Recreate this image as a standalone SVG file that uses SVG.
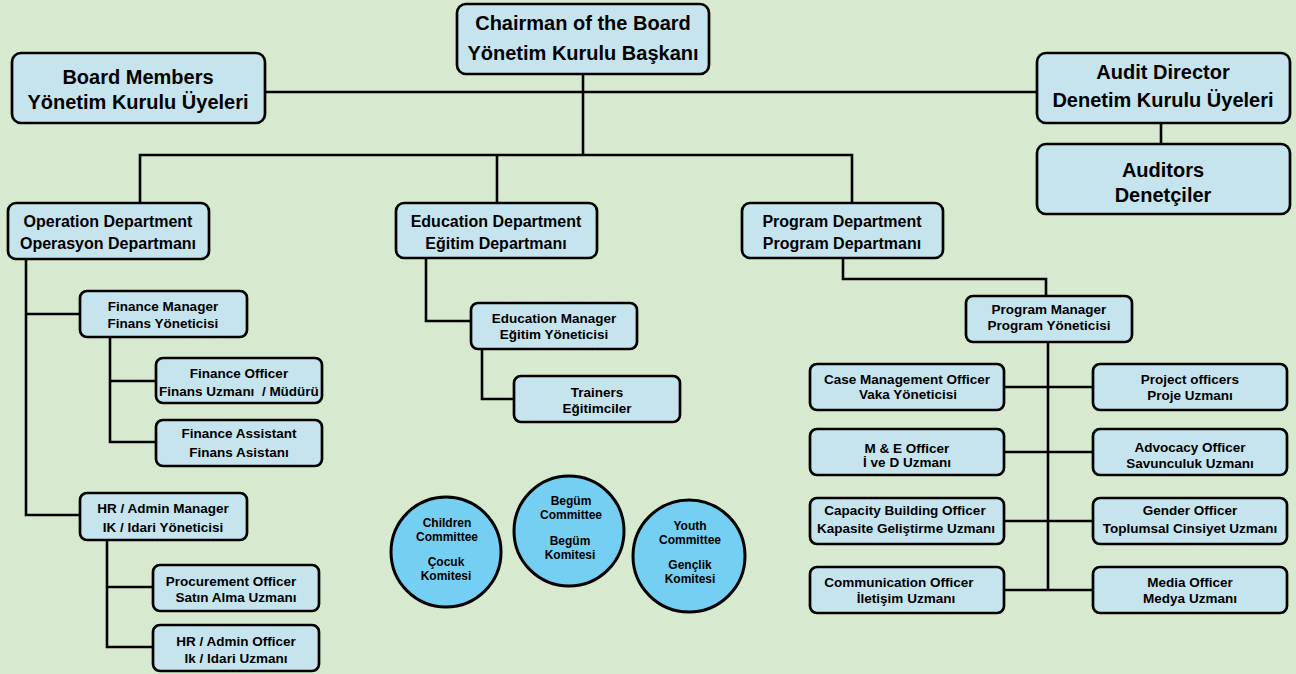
<svg xmlns="http://www.w3.org/2000/svg" width="1296" height="674" viewBox="0 0 1296 674">
<style>
.bg{fill:#d7eacf}
.box{fill:#c6e4ee;stroke:#000;stroke-width:2.7}
.circ{fill:#74cff3;stroke:#000;stroke-width:3}
.ln{fill:none;stroke:#000;stroke-width:2.6}
text{font-family:"Liberation Sans",Arial,sans-serif;font-weight:bold;fill:#000;text-anchor:middle}
.t20{font-size:20px}
.t16{font-size:16px}
.t13{font-size:13.5px}
.t12{font-size:12px}
</style>
<rect class="bg" x="0" y="0" width="1296" height="674"/>
<g id="connectors">
<path class="ln" d="M265 92H1037"/>
<path class="ln" d="M583 74V155"/>
<path class="ln" d="M140 203V155H852V203"/>
<path class="ln" d="M497 155V203"/>
<path class="ln" d="M1161 123V144"/>
<path class="ln" d="M26 259V515H80"/>
<path class="ln" d="M26 314H80"/>
<path class="ln" d="M110 337V442H156"/>
<path class="ln" d="M110 381H156"/>
<path class="ln" d="M107 540V647H153"/>
<path class="ln" d="M107 587H153"/>
<path class="ln" d="M426 258V321H471"/>
<path class="ln" d="M482 349V399H514"/>
<path class="ln" d="M843 258V279H1046V296"/>
<path class="ln" d="M1048 342V590"/>
<path class="ln" d="M1004 387H1093"/>
<path class="ln" d="M1004 452H1093"/>
<path class="ln" d="M1004 521H1093"/>
<path class="ln" d="M1004 590H1093"/>
</g>
<g id="chairman"><rect class="box" x="457" y="4" width="252" height="70" rx="9"/><text class="t20" x="583" y="30">Chairman of the Board</text><text class="t20" x="583" y="60">Yönetim Kurulu Başkanı</text></g>
<g id="board-members"><rect class="box" x="12" y="53" width="253" height="70" rx="9"/><text class="t20" x="138" y="84">Board Members</text><text class="t20" x="138" y="109">Yönetim Kurulu Üyeleri</text></g>
<g id="audit-director"><rect class="box" x="1037" y="53" width="253" height="70" rx="9"/><text class="t20" x="1163" y="79">Audit Director</text><text class="t20" x="1163" y="107">Denetim Kurulu Üyeleri</text></g>
<g id="auditors"><rect class="box" x="1037" y="144" width="253" height="70" rx="9"/><text class="t20" x="1163" y="177">Auditors</text><text class="t20" x="1163" y="202">Denetçiler</text></g>
<g id="operation-dept"><rect class="box" x="8" y="203" width="201" height="56" rx="8"/><text class="t16" x="108" y="227">Operation Department</text><text class="t16" x="108" y="249">Operasyon Departmanı</text></g>
<g id="education-dept"><rect class="box" x="396" y="203" width="201" height="55" rx="8"/><text class="t16" x="496" y="227">Education Department</text><text class="t16" x="496" y="249">Eğitim Departmanı</text></g>
<g id="program-dept"><rect class="box" x="742" y="203" width="201" height="55" rx="8"/><text class="t16" x="842" y="227">Program Department</text><text class="t16" x="842" y="249">Program Departmanı</text></g>
<g id="finance-manager"><rect class="box" x="80" y="291" width="167" height="46" rx="7"/><text class="t13" x="163" y="311">Finance Manager</text><text class="t13" x="163" y="328">Finans Yöneticisi</text></g>
<g id="finance-officer"><rect class="box" x="156" y="358" width="166" height="45" rx="7"/><text class="t13" x="239" y="378">Finance Officer</text><text class="t13" x="239" y="396" xml:space="preserve">Finans Uzmanı  / Müdürü</text></g>
<g id="finance-assistant"><rect class="box" x="156" y="420" width="166" height="46" rx="7"/><text class="t13" x="239" y="438">Finance Assistant</text><text class="t13" x="239" y="457">Finans Asistanı</text></g>
<g id="hr-manager"><rect class="box" x="80" y="493" width="167" height="47" rx="7"/><text class="t13" x="163" y="513">HR / Admin Manager</text><text class="t13" x="163" y="532">IK / Idari Yöneticisi</text></g>
<g id="procurement-officer"><rect class="box" x="153" y="565" width="166" height="46" rx="7"/><text class="t13" x="231" y="586">Procurement Officer</text><text class="t13" x="236" y="602">Satın Alma Uzmanı</text></g>
<g id="hr-officer"><rect class="box" x="153" y="625" width="166" height="46" rx="7"/><text class="t13" x="236" y="646">HR / Admin Officer</text><text class="t13" x="236" y="663">Ik / Idari Uzmanı</text></g>
<g id="education-manager"><rect class="box" x="471" y="303" width="166" height="46" rx="7"/><text class="t13" x="554" y="323">Education Manager</text><text class="t13" x="554" y="339">Eğitim Yöneticisi</text></g>
<g id="trainers"><rect class="box" x="514" y="376" width="166" height="46" rx="7"/><text class="t13" x="597" y="397">Trainers</text><text class="t13" x="597" y="413">Eğitimciler</text></g>
<g id="children-committee"><circle class="circ" cx="446" cy="552" r="55"/><text class="t12" x="447" y="527">Children</text><text class="t12" x="447" y="541">Committee</text><text class="t12" x="446" y="566">Çocuk</text><text class="t12" x="446" y="580">Komitesi</text></g>
<g id="begum-committee"><circle class="circ" cx="569" cy="531" r="55"/><text class="t12" x="571" y="505">Begüm</text><text class="t12" x="571" y="519">Committee</text><text class="t12" x="570" y="545">Begüm</text><text class="t12" x="570" y="559">Komitesi</text></g>
<g id="youth-committee"><circle class="circ" cx="689" cy="556" r="56"/><text class="t12" x="690" y="530">Youth</text><text class="t12" x="690" y="544">Committee</text><text class="t12" x="690" y="569">Gençlik</text><text class="t12" x="690" y="583">Komitesi</text></g>
<g id="program-manager"><rect class="box" x="966" y="296" width="166" height="46" rx="7"/><text class="t13" x="1049" y="314">Program Manager</text><text class="t13" x="1049" y="330">Program Yöneticisi</text></g>
<g id="case-management-officer"><rect class="box" x="810" y="364" width="194" height="46" rx="7"/><text class="t13" x="907" y="384">Case Management Officer</text><text class="t13" x="908" y="399">Vaka Yöneticisi</text></g>
<g id="project-officers"><rect class="box" x="1093" y="364" width="194" height="46" rx="7"/><text class="t13" x="1190" y="384">Project officers</text><text class="t13" x="1190" y="400">Proje Uzmanı</text></g>
<g id="me-officer"><rect class="box" x="810" y="429" width="194" height="46" rx="7"/><text class="t13" x="907" y="453">M &amp; E Officer</text><text class="t13" x="907" y="467">İ ve D Uzmanı</text></g>
<g id="advocacy-officer"><rect class="box" x="1093" y="429" width="194" height="46" rx="7"/><text class="t13" x="1190" y="452">Advocacy Officer</text><text class="t13" x="1190" y="468">Savunculuk Uzmanı</text></g>
<g id="capacity-building-officer"><rect class="box" x="810" y="498" width="194" height="46" rx="7"/><text class="t13" x="905" y="515">Capacity Building Officer</text><text class="t13" x="906" y="533">Kapasite Geliştirme Uzmanı</text></g>
<g id="gender-officer"><rect class="box" x="1093" y="498" width="194" height="46" rx="7"/><text class="t13" x="1190" y="515">Gender Officer</text><text class="t13" x="1190" y="533">Toplumsal Cinsiyet Uzmanı</text></g>
<g id="communication-officer"><rect class="box" x="810" y="567" width="194" height="46" rx="7"/><text class="t13" x="899" y="587">Communication Officer</text><text class="t13" x="906" y="603">İletişim Uzmanı</text></g>
<g id="media-officer"><rect class="box" x="1093" y="567" width="194" height="46" rx="7"/><text class="t13" x="1190" y="587">Media Officer</text><text class="t13" x="1190" y="603">Medya Uzmanı</text></g>
</svg>
